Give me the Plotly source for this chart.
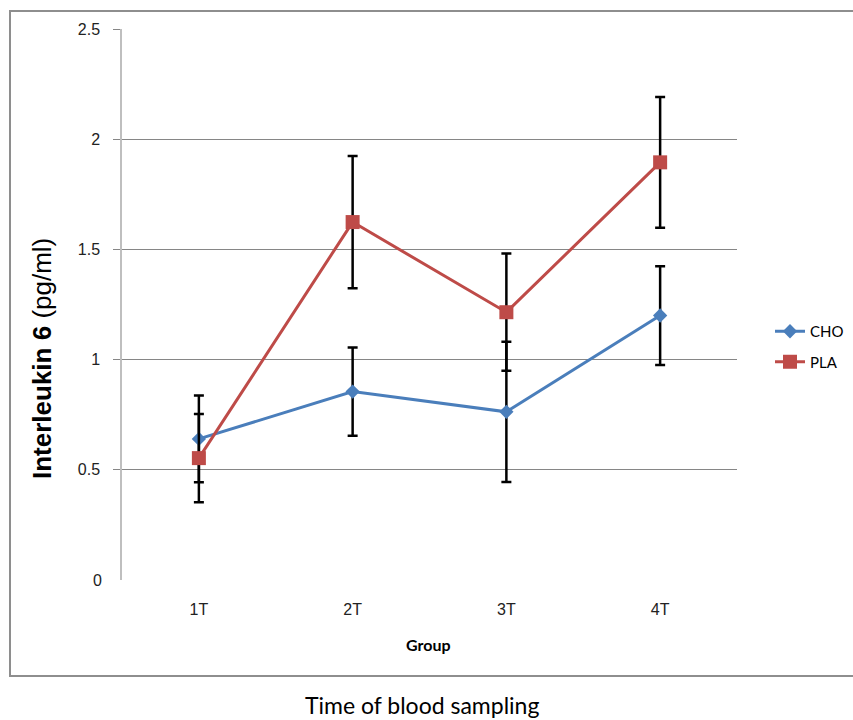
import plotly.graph_objects as go

# ---- data ----
categories = ["1T", "2T", "3T", "4T"]
cho_values = [0.64, 0.855, 0.763, 1.2]
cho_errors = [0.197, 0.2, 0.318, 0.224]
pla_values = [0.553, 1.624, 1.215, 1.895]
pla_errors = [0.2, 0.3, 0.266, 0.297]
y_ticks = [0.5, 1, 1.5, 2, 2.5]
y_tick_labels = ["0.5", "1", "1.5", "2", "2.5"]

W, H = 853, 720
L, R, T, B = 122, 737, 29, 580  # plot area in px


def px_x(x):
    return (x - L) / (R - L)


def px_y(y):
    return (B - y) / (B - T)


fig = go.Figure()

fig.add_trace(go.Scatter(
    x=categories, y=cho_values, name="CHO", mode="lines+markers",
    line=dict(color="#4A7EBB", width=3),
    marker=dict(symbol="diamond", size=11, color="#4A7EBB"),
    error_y=dict(type="data", array=cho_errors, visible=True,
                 color="#000000", thickness=2.5, width=5),
    legendgroup="a",
))
fig.add_trace(go.Scatter(
    x=categories, y=pla_values, name="PLA", mode="lines+markers",
    line=dict(color="#BE4B48", width=3),
    marker=dict(symbol="square", size=14, color="#BE4B48"),
    error_y=dict(type="data", array=pla_errors, visible=True,
                 color="#000000", thickness=2.5, width=5),
    legendgroup="b",
))

shapes = [
    dict(type="rect", xref="paper", yref="paper",
         x0=px_x(10), x1=px_x(870), y0=px_y(676), y1=px_y(11),
         line=dict(color="#8E8E8E", width=2), fillcolor="rgba(0,0,0,0)",
         layer="below"),
]

annotations = [
    dict(text="0", xref="paper", yref="y", x=px_x(104), y=0,
         xanchor="right", yanchor="middle", showarrow=False,
         font=dict(family="Liberation Sans, Arial", size=16, color="#222222")),
    dict(text="<b>Interleukin 6</b> (pg/ml)", xref="paper", yref="paper",
         x=px_x(42), y=px_y(358), xanchor="center", yanchor="middle",
         textangle=-90, showarrow=False,
         font=dict(family="Liberation Sans, Arial", size=26, color="#000000")),
    dict(text="<b>Group</b>", xref="paper", yref="paper",
         x=px_x(428), y=px_y(644), xanchor="center", yanchor="middle",
         showarrow=False,
         font=dict(family="Lato, Open Sans", size=16, color="#000000")),
    dict(text="Time of blood sampling", xref="paper", yref="paper",
         x=px_x(422), y=px_y(705), xanchor="center", yanchor="middle",
         showarrow=False,
         font=dict(family="Lato, Open Sans", size=23, color="#000000")),
]

fig.update_layout(
    width=W, height=H,
    margin=dict(l=L, r=W - R, t=T, b=H - B, pad=0),
    paper_bgcolor="white", plot_bgcolor="white",
    showlegend=True,
    legend=dict(xref="container", yref="container",
                x=770 / W, y=1 - 315 / H, xanchor="left", yanchor="top",
                font=dict(family="Lato, Open Sans", size=15, color="#000000"),
                tracegroupgap=8, bgcolor="rgba(0,0,0,0)"),
    shapes=shapes,
    annotations=annotations,
    xaxis=dict(
        type="category", showgrid=False, showline=False, zeroline=False,
        ticks="", ticklabelstandoff=18,
        tickfont=dict(family="Liberation Sans, Arial", size=16, color="#222222"),
        range=[-0.5, 3.5],
    ),
    yaxis=dict(
        range=[0, 2.5], tickvals=y_ticks, ticktext=y_tick_labels,
        showgrid=True, gridcolor="#868686", gridwidth=1,
        showline=True, linecolor="#BFBFBF", linewidth=1.5,
        zeroline=False,
        ticks="outside", ticklen=7, tickcolor="#868686", tickwidth=1,
        ticklabelstandoff=10,
        tickfont=dict(family="Liberation Sans, Arial", size=16, color="#222222"),
    ),
)

fig.write_html("out.html", config={"displayModeBar": False},
               post_script="document.body.style.margin='0';")
